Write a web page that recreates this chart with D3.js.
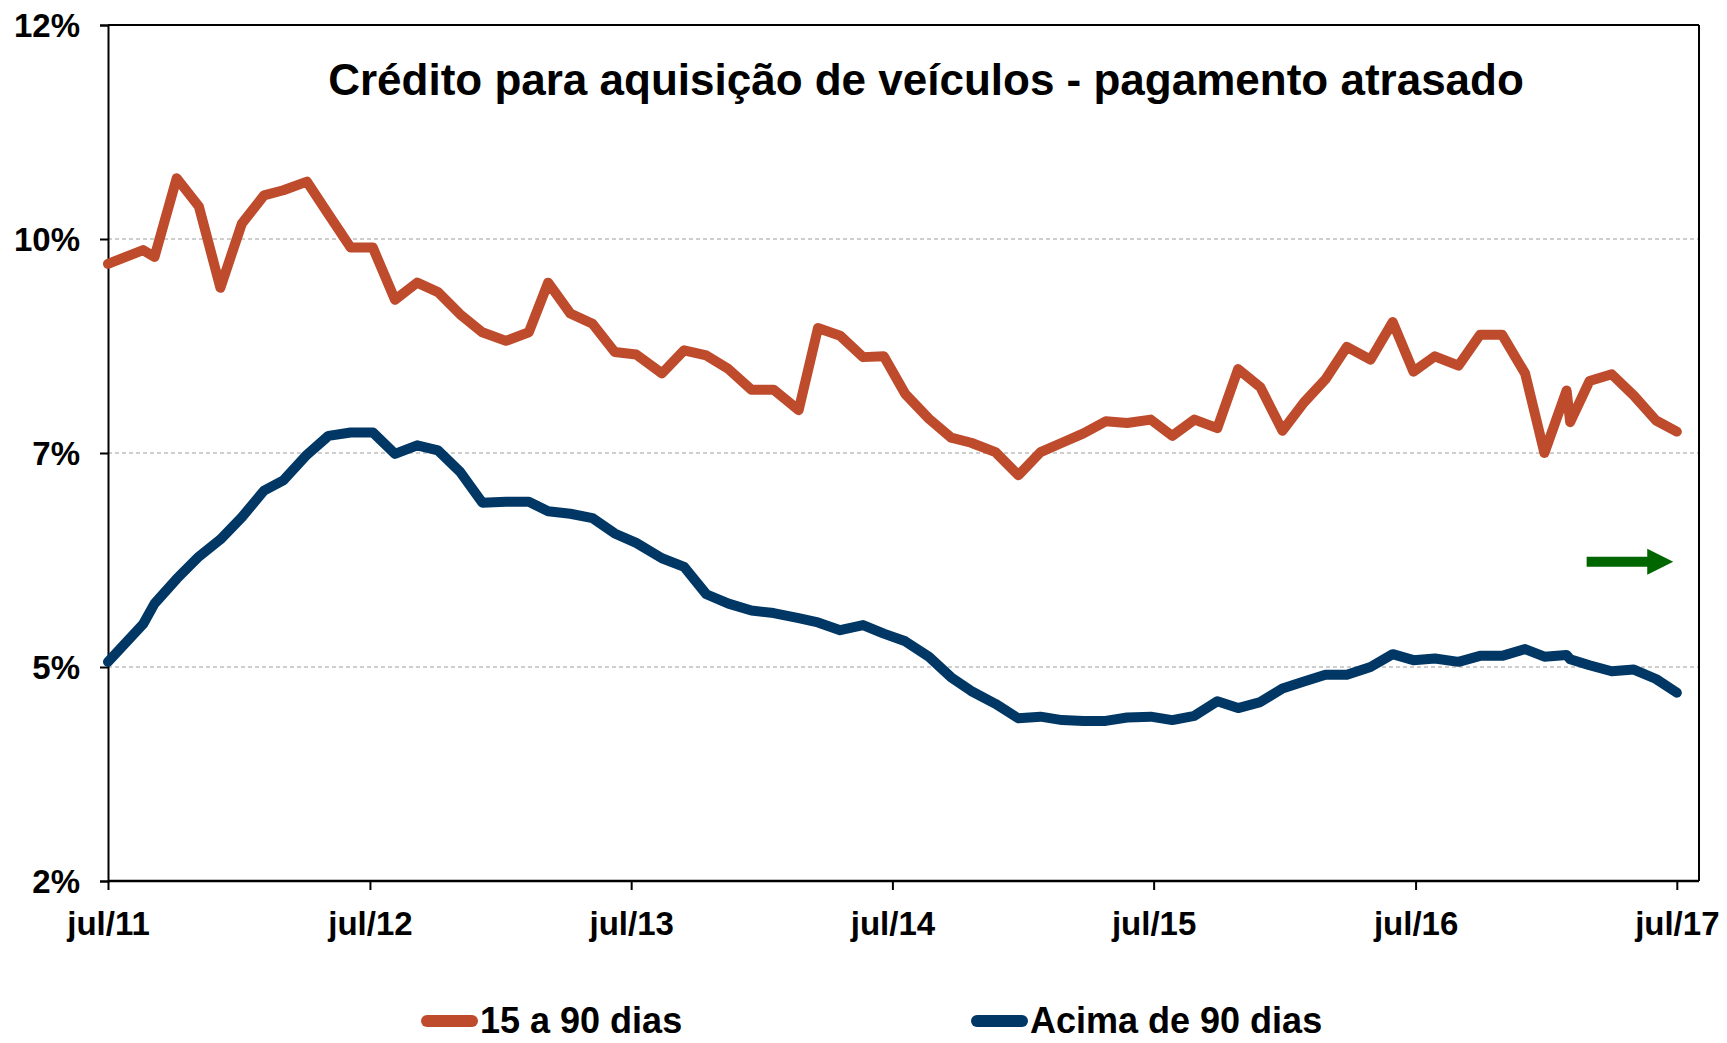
<!DOCTYPE html>
<html>
<head>
<meta charset="utf-8">
<script src="https://cdn.jsdelivr.net/npm/d3@7"></script>
<style>
  body { margin: 0; background: #fff; }
  text { font-family: "Liberation Sans", Arial, sans-serif; font-weight: bold; fill: #000; }
</style>
</head>
<body>
<div id="chart"></div>
<script>
// data (monthly, jul/11 - jul/17)
var dates = [
  "2011-07-01","2011-08-19","2011-09-04","2011-10-05","2011-11-05","2011-12-05",
  "2012-01-04","2012-02-04","2012-03-02","2012-04-04","2012-05-04","2012-06-04",
  "2012-07-05","2012-08-05","2012-09-05","2012-10-04","2012-11-04","2012-12-05",
  "2013-01-07","2013-02-08","2013-03-07","2013-04-07","2013-05-08","2013-06-08",
  "2013-07-08","2013-08-13","2013-09-13","2013-10-14","2013-11-14","2013-12-16",
  "2014-01-16","2014-02-20","2014-03-19","2014-04-19","2014-05-21","2014-06-19",
  "2014-07-19","2014-08-21","2014-09-21","2014-10-19","2014-11-22","2014-12-24",
  "2015-01-24","2015-02-23","2015-03-25","2015-04-25","2015-05-25","2015-06-27",
  "2015-07-27","2015-08-27","2015-09-28","2015-10-27","2015-11-27","2015-12-28",
  "2016-01-27","2016-02-26","2016-03-27","2016-04-29","2016-05-30","2016-06-28",
  "2016-07-28","2016-08-30","2016-09-29","2016-10-30","2016-12-01","2016-12-28",
  "2017-01-28","2017-02-02","2017-03-01","2017-04-01","2017-05-02","2017-06-02",
  "2017-07-01"
];

var atraso15a90 = [
  9.21, 9.37, 9.29, 10.21, 9.88, 8.93, 9.68, 10.01, 10.07, 10.17, 9.79, 9.40,
  9.40, 8.79, 8.99, 8.88, 8.62, 8.41, 8.31, 8.41, 8.99, 8.63, 8.51, 8.18,
  8.15, 7.93, 8.20, 8.14, 7.98, 7.74, 7.74, 7.50, 8.46, 8.37, 8.12, 8.13,
  7.69, 7.40, 7.18, 7.12, 7.01, 6.74, 7.01, 7.12, 7.23, 7.37, 7.35, 7.39,
  7.20, 7.39, 7.29, 7.98, 7.77, 7.26, 7.59, 7.86, 8.24, 8.09, 8.53, 7.95,
  8.13, 8.02, 8.38, 8.38, 7.93, 7.00, 7.73, 7.36, 7.84, 7.92, 7.67, 7.38,
  7.25
];

var acima90 = [
  4.56, 5.00, 5.24, 5.53, 5.79, 5.99, 6.25, 6.56, 6.68, 6.98, 7.20, 7.24,
  7.24, 6.99, 7.09, 7.03, 6.78, 6.42, 6.43, 6.43, 6.32, 6.29, 6.24, 6.06,
  5.95, 5.77, 5.67, 5.35, 5.24, 5.16, 5.13, 5.07, 5.02, 4.93, 4.99, 4.89,
  4.80, 4.62, 4.38, 4.22, 4.07, 3.90, 3.92, 3.88, 3.87, 3.87, 3.91, 3.92,
  3.88, 3.93, 4.10, 4.02, 4.09, 4.25, 4.33, 4.41, 4.41, 4.50, 4.65, 4.58,
  4.60, 4.56, 4.63, 4.63, 4.71, 4.62, 4.64, 4.59, 4.52, 4.45, 4.47, 4.36,
  4.20
];

var seriesNames = ["15 a 90 dias", "Acima de 90 dias"];
var seriesColors = ["#BE4B2C", "#003764"];

var yTicks = [2, 4.5, 7, 9.5, 12];
var yTickLabels = ["2%", "5%", "7%", "10%", "12%"];
var xTicks = ["2011-07-01","2012-07-01","2013-07-01","2014-07-01","2015-07-01","2016-07-01","2017-07-01"];
var xTickLabels = ["jul/11", "jul/12", "jul/13", "jul/14", "jul/15", "jul/16", "jul/17"];

var title = "Crédito para aquisição de veículos - pagamento atrasado";

// green arrow annotation
var arrowFrom = "2017-02-25", arrowTo = "2017-06-26", arrowLevel = 5.73;

// set the dimensions and margins of the graph
var W = 1727, H = 1043;
var margin = {top: 25, right: 28, bottom: 162, left: 108},
    width = W - margin.left - margin.right,
    height = H - margin.top - margin.bottom;

var parse = d3.timeParse("%Y-%m-%d");

var svg = d3.select("#chart")
  .append("svg")
    .attr("width", W)
    .attr("height", H)
  .append("g")
    .attr("transform", "translate(" + margin.left + "," + margin.top + ")");

var x = d3.scaleTime()
    .domain([parse("2011-07-01"), parse("2017-08-01")])
    .range([0, width]);

var y = d3.scaleLinear()
    .domain([2, 12])
    .range([height, 0]);

// dashed gridlines
svg.append("g")
  .selectAll("line")
  .data(yTicks.filter(function(d) { return d > 2 && d < 12; }))
  .enter().append("line")
    .attr("x1", 0)
    .attr("x2", width)
    .attr("y1", function(d) { return y(d); })
    .attr("y2", function(d) { return y(d); })
    .attr("stroke", "#BFBFBF")
    .attr("stroke-width", 1.5)
    .attr("stroke-dasharray", "4,3");

// frame (top and right)
svg.append("line")
    .attr("x1", 0).attr("x2", width).attr("y1", 0).attr("y2", 0)
    .attr("stroke", "#000").attr("stroke-width", 2);
svg.append("line")
    .attr("x1", width).attr("x2", width).attr("y1", 0).attr("y2", height)
    .attr("stroke", "#000").attr("stroke-width", 2);

// Y axis
var yAxis = svg.append("g")
    .call(d3.axisLeft(y)
      .tickValues(yTicks)
      .tickSize(8)
      .tickPadding(20)
      .tickFormat(function(d, i) { return yTickLabels[i]; }));
yAxis.select(".domain").attr("stroke", "#000").attr("stroke-width", 2);
yAxis.selectAll(".tick line").attr("stroke", "#000").attr("stroke-width", 2);
yAxis.selectAll(".tick text")
    .style("font-size", "33px")
    .attr("dy", "0.36em");

// X axis
var xAxis = svg.append("g")
    .attr("transform", "translate(0," + height + ")")
    .call(d3.axisBottom(x)
      .tickValues(xTicks.map(parse))
      .tickSize(9)
      .tickPadding(22)
      .tickFormat(function(d, i) { return xTickLabels[i]; }));
xAxis.select(".domain").attr("stroke", "#000").attr("stroke-width", 2.5)
    .attr("d", "M0,0H" + width);
xAxis.selectAll(".tick line").attr("stroke", "#000").attr("stroke-width", 2);
xAxis.selectAll(".tick text")
    .style("font-size", "33px")
    .attr("dy", "0.71em");

// lines
var series = [atraso15a90, acima90];
var line = d3.line()
    .x(function(d) { return x(d.date); })
    .y(function(d) { return y(d.value); });

series.forEach(function(vals, s) {
  var pts = vals.map(function(v, i) { return {date: parse(dates[i]), value: v}; });
  svg.append("path")
    .datum(pts)
    .attr("fill", "none")
    .attr("stroke", seriesColors[s])
    .attr("stroke-width", 10)
    .attr("stroke-linejoin", "round")
    .attr("stroke-linecap", "round")
    .attr("d", line);
});

// title
svg.append("text")
    .attr("x", 926 - margin.left)
    .attr("y", 95 - margin.top)
    .attr("text-anchor", "middle")
    .style("font-size", "44px")
    .text(title);

// green arrow
var ax0 = x(parse(arrowFrom)), ax1 = x(parse(arrowTo)), ay = y(arrowLevel);
svg.append("path")
    .attr("d", "M" + ax0 + "," + (ay - 5) + "H" + (ax1 - 26) + "V" + (ay - 13) +
               "L" + ax1 + "," + ay + "L" + (ax1 - 26) + "," + (ay + 13) +
               "V" + (ay + 5) + "H" + ax0 + "Z")
    .attr("fill", "#006600");

// legend
var legendX = [421, 971];
var legend = svg.append("g")
    .attr("transform", "translate(" + (-margin.left) + "," + (-margin.top) + ")");
seriesNames.forEach(function(name, s) {
  legend.append("line")
    .attr("x1", legendX[s] + 6).attr("x2", legendX[s] + 51)
    .attr("y1", 1021).attr("y2", 1021)
    .attr("stroke", seriesColors[s])
    .attr("stroke-width", 12)
    .attr("stroke-linecap", "round");
  legend.append("text")
    .attr("x", legendX[s] + 59)
    .attr("y", 1033)
    .style("font-size", "36px")
    .text(name);
});
</script>
</body>
</html>
